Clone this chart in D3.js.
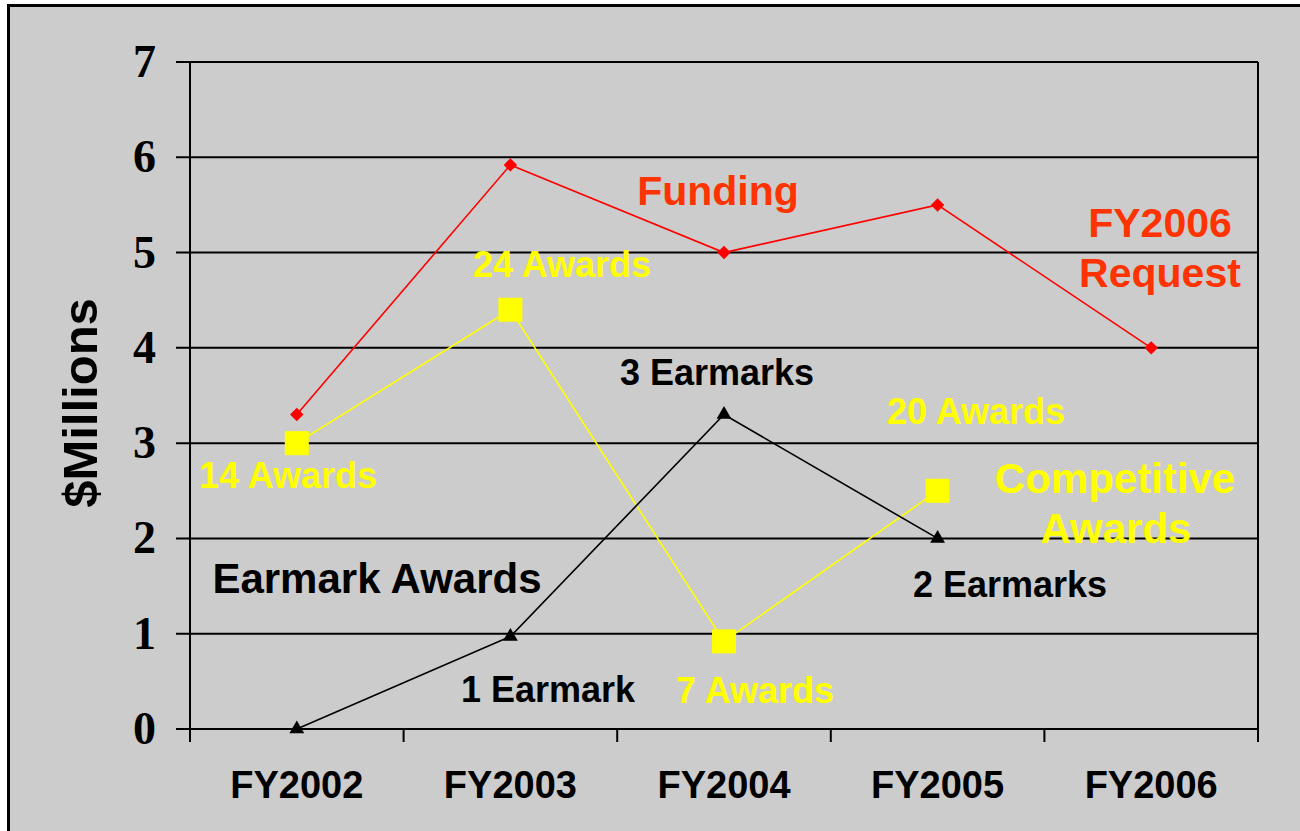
<!DOCTYPE html>
<html><head><meta charset="utf-8">
<script src="https://cdn.jsdelivr.net/npm/d3@7"></script>
<style>body{margin:0;background:#fff;}svg{display:block;}</style>
</head><body>
<svg id="chart" width="1300" height="831"></svg>
<script>
const categories = ["FY2002","FY2003","FY2004","FY2005","FY2006"];
const funding = [3.3, 5.92, 5.0, 5.5, 4.0];
const competitive = [3.0, 4.4, 0.92, 2.5, null];
const earmark = [0, 0.97, 3.3, 2.0, null];
const yTicks = [0,1,2,3,4,5,6,7];

const svg = d3.select("#chart");
// background frame
svg.append("rect").attr("x",8.5).attr("y",5.5).attr("width",1300).attr("height",840)
  .attr("fill","#cccccc").attr("stroke","#000").attr("stroke-width",3);

const x = d3.scaleBand().domain(categories).range([190,1258]).padding(0);
const y = d3.scaleLinear().domain([0,7]).range([729,62]);

// gridlines
svg.append("g").selectAll("line").data(yTicks).join("line")
  .attr("x1",176).attr("x2",1258).attr("y1",d=>y(d)).attr("y2",d=>y(d))
  .attr("stroke","#000").attr("stroke-width",2);

// left axis line & right border
svg.append("line").attr("x1",190).attr("x2",190).attr("y1",62).attr("y2",742).attr("stroke","#000").attr("stroke-width",2);
svg.append("line").attr("x1",1258).attr("x2",1258).attr("y1",62).attr("y2",742).attr("stroke","#000").attr("stroke-width",2);
// x ticks at category boundaries
const bounds = categories.map(c=>x(c)).concat([x.range()[1]]);
svg.append("g").selectAll("line").data(bounds).join("line")
  .attr("x1",d=>d).attr("x2",d=>d).attr("y1",729).attr("y2",742)
  .attr("stroke","#000").attr("stroke-width",2);

// y tick labels
svg.append("g").selectAll("text").data(yTicks).join("text")
  .attr("x",156).attr("y",d=>y(d)+15).attr("text-anchor","end")
  .attr("font-family","'Liberation Serif','Times New Roman',serif").attr("font-weight","bold")
  .attr("font-size",46).text(d=>d);

// x tick labels
svg.append("g").selectAll("text").data(categories).join("text")
  .attr("x",d=>x(d)+x.bandwidth()/2).attr("y",798).attr("text-anchor","middle")
  .attr("font-family","'Liberation Sans',Arial,sans-serif").attr("font-weight","bold")
  .attr("font-size",38).text(d=>d);

// y title
svg.append("text").attr("transform","translate(97,403) rotate(-90)").attr("text-anchor","middle")
  .attr("font-family","'Liberation Sans',Arial,sans-serif").attr("font-weight","bold")
  .attr("font-size",49).text("$Millions");

const cx = c=>x(c)+x.bandwidth()/2;
function series(vals, color){
  const pts = categories.map((c,i)=>({c,v:vals[i]})).filter(d=>d.v!=null);
  svg.append("path").datum(pts)
    .attr("d", d3.line().x(d=>cx(d.c)).y(d=>y(d.v)))
    .attr("fill","none").attr("stroke",color).attr("stroke-width",1.6);
  return pts;
}
const fPts = series(funding,"#ff0000");
const cPts = series(competitive,"#ffff00");
const ePts = series(earmark,"#000000");

svg.append("g").selectAll("path").data(fPts).join("path")
  .attr("d", d3.symbol().type(d3.symbolSquare).size(90))
  .attr("transform",d=>`translate(${cx(d.c)},${y(d.v)}) rotate(45)`)
  .attr("fill","#ff0000");
svg.append("g").selectAll("rect").data(cPts).join("rect")
  .attr("x",d=>cx(d.c)-12).attr("y",d=>y(d.v)-12).attr("width",24).attr("height",24)
  .attr("fill","#ffff00");
svg.append("g").selectAll("path").data(ePts).join("path")
  .attr("d", d3.symbol().type(d3.symbolTriangle).size(95))
  .attr("transform",d=>`translate(${cx(d.c)},${y(d.v)})`)
  .attr("fill","#000");

// annotations
const labels = [
  {t:"Funding", x:718, y:205, c:"#ff3300", s:41},
  {t:"FY2006", x:1160, y:237, c:"#ff3300", s:41},
  {t:"Request", x:1160, y:287, c:"#ff3300", s:41},
  {t:"24 Awards", x:562, y:277, c:"#ffff00", s:36},
  {t:"14 Awards", x:288, y:488, c:"#ffff00", s:36},
  {t:"20 Awards", x:976, y:424, c:"#ffff00", s:36},
  {t:"7 Awards", x:755, y:703, c:"#ffff00", s:36},
  {t:"Competitive", x:1115, y:493, c:"#ffff00", s:42},
  {t:"Awards", x:1116, y:543, c:"#ffff00", s:42},
  {t:"3 Earmarks", x:717, y:385, c:"#000", s:36},
  {t:"2 Earmarks", x:1010, y:597, c:"#000", s:36},
  {t:"1 Earmark", x:548, y:702, c:"#000", s:36},
  {t:"Earmark Awards", x:377, y:593, c:"#000", s:42}
];
svg.append("g").selectAll("text").data(labels).join("text")
  .attr("x",d=>d.x).attr("y",d=>d.y).attr("text-anchor","middle")
  .attr("font-family","'Liberation Sans',Arial,sans-serif").attr("font-weight","bold")
  .attr("font-size",d=>d.s).attr("fill",d=>d.c).text(d=>d.t);
</script>
</body></html>
